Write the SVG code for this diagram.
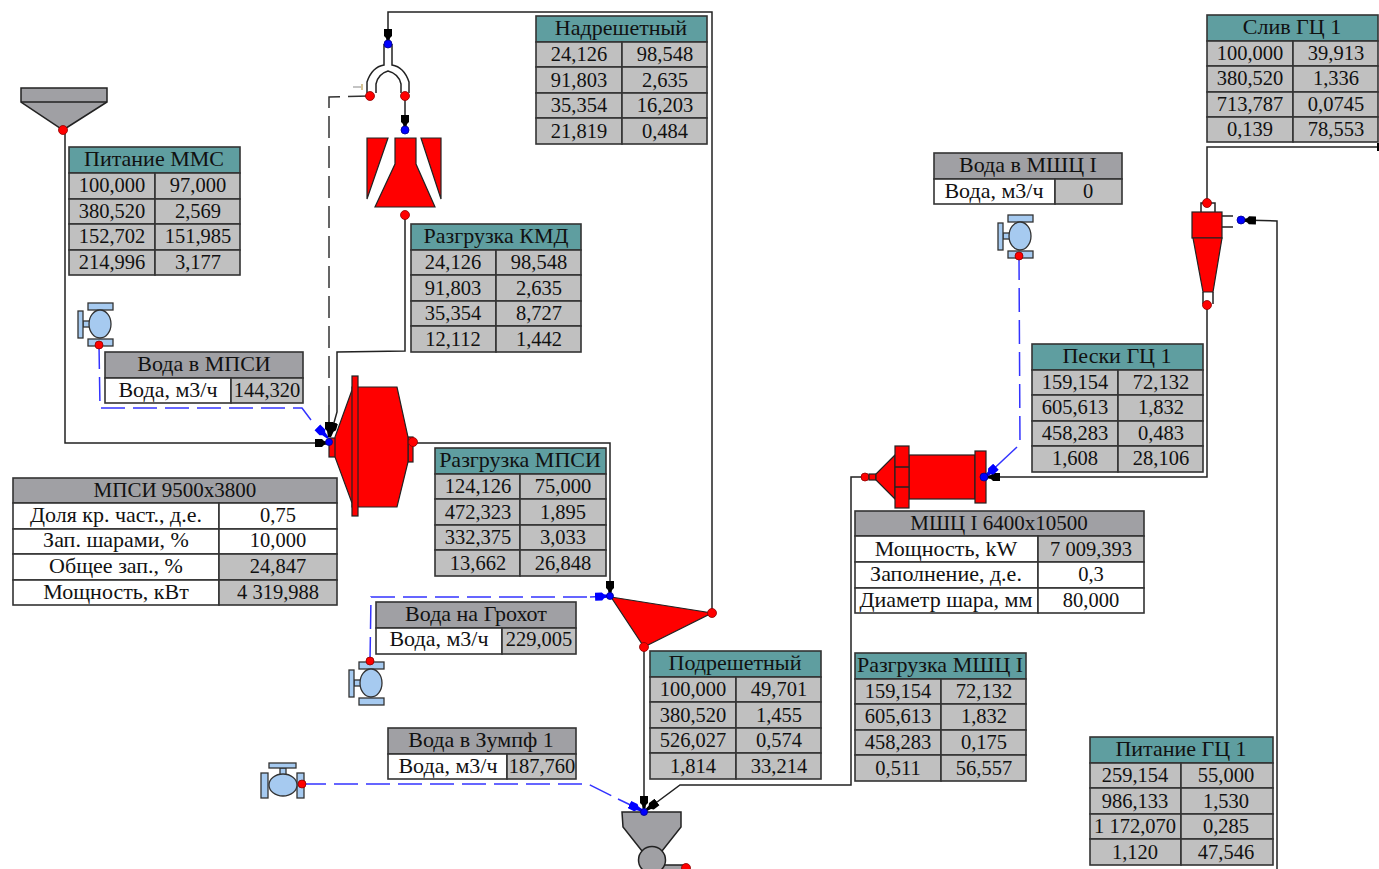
<svg xmlns="http://www.w3.org/2000/svg" width="1379" height="869" viewBox="0 0 1379 869">
<style>
text{font-family:"Liberation Serif",serif;font-size:20.5px;fill:#111;text-anchor:middle}
text.s{font-size:22px}
text.q{font-size:21px}
.t rect{stroke:#333;stroke-width:1.6}
.h{fill:#5f9ea0}.g{fill:#a0a0a4}.c{fill:#c0c0c0}.w{fill:#fff}
.l{fill:none;stroke:#222;stroke-width:1.5}
.b{fill:none;stroke:#3333ff;stroke-width:1.5;stroke-dasharray:24 8}
.d{fill:none;stroke:#333;stroke-width:1.5;stroke-dasharray:22 8}
.m{marker-end:url(#ak)}.n{marker-end:url(#ab)}
.r{fill:#f00;stroke:#222;stroke-width:1.2}
.e{fill:#a0a0a4;stroke:#222;stroke-width:1.5}
.rd{fill:#f00;stroke:#8b0000;stroke-width:.8}
.bd{fill:#00f;stroke:#00008b;stroke-width:.8}
.v{fill:#a6caf0;stroke:#333;stroke-width:1.3}
</style>
<defs>
<marker id="ak" markerUnits="userSpaceOnUse" markerWidth="16" markerHeight="10" refX="15" refY="5" orient="auto"><path d="M0,1H7L9,3L15,4V6L9,7L7,9H0Z" fill="#000"/></marker>
<marker id="ab" markerUnits="userSpaceOnUse" markerWidth="16" markerHeight="10" refX="15" refY="5" orient="auto"><path d="M0,1H7L9,3L15,4V6L9,7L7,9H0Z" fill="#00f"/></marker>
<g id="valve"><rect class="v" x="-12" y="-21" width="25" height="7"/><rect class="v" x="-12" y="15" width="25" height="7"/><rect class="v" x="-17" y="-3" width="7" height="6"/><rect class="v" x="-22" y="-13" width="5" height="27"/><ellipse class="v" cx="0" cy="0" rx="11" ry="14"/></g>
</defs>

<g id="connectors">
<polyline class="l m" points="65,130 65,443 330,443"/>
<polyline class="b" points="99,345 100,408 302,408 311,420"/>
<polyline class="n" fill="none" stroke="#3333ff" stroke-width="1.5" points="318,428 328,438"/>
<polyline class="d" points="370,96 329,97 329,405"/>
<polyline class="l m" points="329,405 329,437"/>
<polyline class="l m" points="405,215 405,351 337,352 337,412 330,437"/>
<polyline class="l m" points="412,443 610,443 610,596"/>
<polyline class="l m" points="712,613 712,12 388,12 388,44"/>
<polyline class="l m" points="405,96 405,130"/>
<polyline class="b" points="370,661 371,597 590,597"/>
<polyline class="n" fill="none" stroke="#3333ff" stroke-width="1.5" points="590,597 610,596"/>
<polyline class="l m" points="644,647 644,811"/>
<polyline class="b" points="302,784 588,784 612,796"/>
<polyline class="n" fill="none" stroke="#3333ff" stroke-width="1.5" points="618,799 643,811"/>
<polyline class="l m" points="868,477 851,477 851,785 680,785 645,811"/>
<polyline class="l m" points="1207,305 1207,477 985,477"/>
<polyline class="b" points="1019,256 1020,447"/>
<polyline class="n" fill="none" stroke="#3333ff" stroke-width="1.5" points="1017,447 985,477"/>
<polyline class="l m" points="1277,869 1277,221 1241,220"/>
<polyline class="l" points="1207,203 1207,147 1379,147"/>
<rect x="1377" y="143" width="2" height="8" fill="#000"/>
</g>

<g id="hopper"><path class="e" d="M21,88H107V102L63,130L21,102Z"/><path class="l" d="M21,102H107"/><circle class="rd" cx="63" cy="130" r="4.5"/></g>
<g id="splitter"><path class="l" d="M384,44V65Q372,67 367,82V93M392,44V65Q404,67 409,82V93M376,93V84Q378,74 388,71Q399,74 401,84V93"/><path d="M353,87H361" fill="none" stroke="#b0b0b0" stroke-width="1.5"/><path d="M362,84V90" fill="none" stroke="#c8b070" stroke-width="1.5"/><circle class="rd" cx="370" cy="96" r="4.5"/><circle class="rd" cx="405" cy="96" r="4.5"/><circle class="bd" cx="388" cy="44" r="4"/></g>
<g id="kmd"><path class="r" d="M367,138H388L367,199Z"/><path class="r" d="M395,138H416V164L435,207H375L395,164Z"/><path class="r" d="M421,138H441V199Z"/><circle class="bd" cx="405" cy="130" r="4"/><circle class="rd" cx="405" cy="215" r="4.5"/></g>
<g id="mill1"><rect class="r" x="329" y="438" width="7" height="19"/><rect class="r" x="408" y="437" width="5" height="25"/><path class="r" d="M352,390L335,437V457L352,503V507H397L408,462V437L397,387H352Z"/><rect class="r" x="352" y="376" width="6" height="140"/><circle class="rd" cx="413" cy="442" r="4.5"/><circle class="bd" cx="329" cy="442" r="3.5"/></g>
<g id="screen"><path class="r" d="M611,597L712,613L644,647Z"/><circle class="bd" cx="610" cy="596" r="3.5"/><circle class="rd" cx="712" cy="613" r="4.5"/><circle class="rd" cx="644" cy="647" r="4.5"/></g>
<g id="sump"><rect class="e" x="662" y="865" width="24" height="5"/><path class="e" d="M622,812H681V827L662,851H642L623,827Z"/><circle class="e" cx="652" cy="860" r="13.5"/><circle class="rd" cx="686" cy="868" r="4.5"/><circle class="bd" cx="644" cy="812" r="3.5"/></g>
<g id="mill2"><circle class="rd" cx="865" cy="477" r="4"/><rect class="r" x="869" y="474" width="7" height="6"/><path class="r" d="M895,455L876,474V480L895,499Z"/><rect class="r" x="909" y="455" width="66" height="44"/><rect class="r" x="895" y="446" width="14" height="62"/><path class="l" d="M895,467H909M895,487H909"/><rect class="r" x="975" y="451" width="11" height="52"/><circle class="bd" cx="984" cy="477" r="4"/></g>
<g id="cyclone"><path class="l" d="M1201,212V203H1215V212M1222,216H1233M1222,227H1233M1203,292V304M1213,292V304"/><rect class="r" x="1192" y="212" width="30" height="26"/><path class="r" d="M1193,238H1222L1213,292H1203Z"/><circle class="rd" cx="1207" cy="203" r="4.5"/><circle class="rd" cx="1207" cy="305" r="4.5"/><circle class="bd" cx="1241" cy="220" r="4"/></g>
<g id="valve1"><use href="#valve" x="100" y="324"/><circle class="rd" cx="99" cy="345" r="4"/></g>
<g id="valve2"><use href="#valve" x="371" y="683"/><circle class="rd" cx="370" cy="661" r="4"/></g>
<g id="valve3"><use href="#valve" transform="translate(283,785) rotate(90)"/><circle class="rd" cx="302" cy="784" r="4"/></g>
<g id="valve4"><use href="#valve" x="1020" y="236"/><circle class="rd" cx="1019" cy="256" r="4"/></g>

<g id="pit-mms" class="t"><rect class="h" x="69" y="147" width="171" height="26"/><rect class="c" x="69" y="173" width="86" height="26"/><rect class="c" x="155" y="173" width="85" height="26"/><rect class="c" x="69" y="199" width="86" height="25"/><rect class="c" x="155" y="199" width="85" height="25"/><rect class="c" x="69" y="224" width="86" height="26"/><rect class="c" x="155" y="224" width="85" height="26"/><rect class="c" x="69" y="250" width="86" height="25"/><rect class="c" x="155" y="250" width="85" height="25"/>
<text class="s" x="154" y="166">Питание ММС</text><text x="112" y="192">100,000</text><text x="198" y="192">97,000</text><text x="112" y="218">380,520</text><text x="198" y="218">2,569</text><text x="112" y="243">152,702</text><text x="198" y="243">151,985</text><text x="112" y="269">214,996</text><text x="198" y="269">3,177</text></g>

<g id="nadr" class="t"><rect class="h" x="536" y="16" width="171" height="26"/><rect class="c" x="536" y="42" width="86" height="25"/><rect class="c" x="622" y="42" width="85" height="25"/><rect class="c" x="536" y="67" width="86" height="26"/><rect class="c" x="622" y="67" width="85" height="26"/><rect class="c" x="536" y="93" width="86" height="25"/><rect class="c" x="622" y="93" width="85" height="25"/><rect class="c" x="536" y="118" width="86" height="26"/><rect class="c" x="622" y="118" width="85" height="26"/>
<text class="s" x="621" y="35">Надрешетный</text><text x="579" y="61">24,126</text><text x="665" y="61">98,548</text><text x="579" y="87">91,803</text><text x="665" y="87">2,635</text><text x="579" y="112">35,354</text><text x="665" y="112">16,203</text><text x="579" y="138">21,819</text><text x="665" y="138">0,484</text></g>

<g id="razg-kmd" class="t"><rect class="h" x="411" y="224" width="170" height="26"/><rect class="c" x="411" y="250" width="85" height="25"/><rect class="c" x="496" y="250" width="85" height="25"/><rect class="c" x="411" y="275" width="85" height="26"/><rect class="c" x="496" y="275" width="85" height="26"/><rect class="c" x="411" y="301" width="85" height="25"/><rect class="c" x="496" y="301" width="85" height="25"/><rect class="c" x="411" y="326" width="85" height="26"/><rect class="c" x="496" y="326" width="85" height="26"/>
<text class="s" x="496" y="243">Разгрузка КМД</text><text x="453" y="269">24,126</text><text x="539" y="269">98,548</text><text x="453" y="295">91,803</text><text x="539" y="295">2,635</text><text x="453" y="320">35,354</text><text x="539" y="320">8,727</text><text x="453" y="346">12,112</text><text x="539" y="346">1,442</text></g>

<g id="razg-mpsi" class="t"><rect class="h" x="435" y="448" width="171" height="26"/><rect class="c" x="435" y="474" width="85" height="25"/><rect class="c" x="520" y="474" width="86" height="25"/><rect class="c" x="435" y="499" width="85" height="26"/><rect class="c" x="520" y="499" width="86" height="26"/><rect class="c" x="435" y="525" width="85" height="25"/><rect class="c" x="520" y="525" width="86" height="25"/><rect class="c" x="435" y="550" width="85" height="26"/><rect class="c" x="520" y="550" width="86" height="26"/>
<text class="s" x="520" y="467">Разгрузка МПСИ</text><text x="478" y="493">124,126</text><text x="563" y="493">75,000</text><text x="478" y="519">472,323</text><text x="563" y="519">1,895</text><text x="478" y="544">332,375</text><text x="563" y="544">3,033</text><text x="478" y="570">13,662</text><text x="563" y="570">26,848</text></g>

<g id="podr" class="t"><rect class="h" x="650" y="651" width="171" height="26"/><rect class="c" x="650" y="677" width="86" height="25"/><rect class="c" x="736" y="677" width="85" height="25"/><rect class="c" x="650" y="702" width="86" height="26"/><rect class="c" x="736" y="702" width="85" height="26"/><rect class="c" x="650" y="728" width="86" height="25"/><rect class="c" x="736" y="728" width="85" height="25"/><rect class="c" x="650" y="753" width="86" height="26"/><rect class="c" x="736" y="753" width="85" height="26"/>
<text class="s" x="735" y="670">Подрешетный</text><text x="693" y="696">100,000</text><text x="779" y="696">49,701</text><text x="693" y="722">380,520</text><text x="779" y="722">1,455</text><text x="693" y="747">526,027</text><text x="779" y="747">0,574</text><text x="693" y="773">1,814</text><text x="779" y="773">33,214</text></g>

<g id="razg-mshc" class="t"><rect class="h" x="855" y="653" width="171" height="26"/><rect class="c" x="855" y="679" width="86" height="25"/><rect class="c" x="941" y="679" width="85" height="25"/><rect class="c" x="855" y="704" width="86" height="26"/><rect class="c" x="941" y="704" width="85" height="26"/><rect class="c" x="855" y="730" width="86" height="25"/><rect class="c" x="941" y="730" width="85" height="25"/><rect class="c" x="855" y="755" width="86" height="26"/><rect class="c" x="941" y="755" width="85" height="26"/>
<text class="s" x="940" y="672">Разгрузка МШЦ I</text><text x="898" y="698">159,154</text><text x="984" y="698">72,132</text><text x="898" y="723">605,613</text><text x="984" y="723">1,832</text><text x="898" y="749">458,283</text><text x="984" y="749">0,175</text><text x="898" y="775">0,511</text><text x="984" y="775">56,557</text></g>

<g id="pit-gc" class="t"><rect class="h" x="1090" y="737" width="183" height="26"/><rect class="c" x="1090" y="763" width="91" height="25"/><rect class="c" x="1181" y="763" width="92" height="25"/><rect class="c" x="1090" y="788" width="91" height="26"/><rect class="c" x="1181" y="788" width="92" height="26"/><rect class="c" x="1090" y="814" width="91" height="25"/><rect class="c" x="1181" y="814" width="92" height="25"/><rect class="c" x="1090" y="839" width="91" height="26"/><rect class="c" x="1181" y="839" width="92" height="26"/>
<text class="s" x="1181" y="756">Питание ГЦ 1</text><text x="1135" y="782">259,154</text><text x="1226" y="782">55,000</text><text x="1135" y="808">986,133</text><text x="1226" y="808">1,530</text><text x="1135" y="833">1 172,070</text><text x="1226" y="833">0,285</text><text x="1135" y="859">1,120</text><text x="1226" y="859">47,546</text></g>

<g id="peski-gc" class="t"><rect class="h" x="1032" y="344" width="171" height="26"/><rect class="c" x="1032" y="370" width="86" height="25"/><rect class="c" x="1118" y="370" width="85" height="25"/><rect class="c" x="1032" y="395" width="86" height="26"/><rect class="c" x="1118" y="395" width="85" height="26"/><rect class="c" x="1032" y="421" width="86" height="25"/><rect class="c" x="1118" y="421" width="85" height="25"/><rect class="c" x="1032" y="446" width="86" height="26"/><rect class="c" x="1118" y="446" width="85" height="26"/>
<text class="s" x="1117" y="363">Пески ГЦ 1</text><text x="1075" y="389">159,154</text><text x="1161" y="389">72,132</text><text x="1075" y="414">605,613</text><text x="1161" y="414">1,832</text><text x="1075" y="440">458,283</text><text x="1161" y="440">0,483</text><text x="1075" y="465">1,608</text><text x="1161" y="465">28,106</text></g>

<g id="sliv-gc" class="t"><rect class="h" x="1207" y="15" width="171" height="26"/><rect class="c" x="1207" y="41" width="86" height="25"/><rect class="c" x="1293" y="41" width="85" height="25"/><rect class="c" x="1207" y="66" width="86" height="26"/><rect class="c" x="1293" y="66" width="85" height="26"/><rect class="c" x="1207" y="92" width="86" height="25"/><rect class="c" x="1293" y="92" width="85" height="25"/><rect class="c" x="1207" y="117" width="86" height="25"/><rect class="c" x="1293" y="117" width="85" height="25"/>
<text class="s" x="1292" y="34">Слив ГЦ 1</text><text x="1250" y="60">100,000</text><text x="1336" y="60">39,913</text><text x="1250" y="85">380,520</text><text x="1336" y="85">1,336</text><text x="1250" y="111">713,787</text><text x="1336" y="111">0,0745</text><text x="1250" y="136">0,139</text><text x="1336" y="136">78,553</text></g>

<g id="voda-mpsi" class="t"><rect class="g" x="105" y="352" width="198" height="26"/><rect class="w" x="105" y="378" width="126" height="25"/><rect class="c" x="231" y="378" width="72" height="25"/><text class="s" x="204" y="371">Вода в МПСИ</text><text class="s" x="168" y="397">Вода, м3/ч</text><text x="267" y="397">144,320</text></g>
<g id="voda-groh" class="t"><rect class="g" x="376" y="602" width="200" height="26"/><rect class="w" x="376" y="628" width="126" height="26"/><rect class="c" x="502" y="628" width="74" height="26"/><text class="s" x="476" y="621">Вода на Грохот</text><text class="s" x="439" y="646">Вода, м3/ч</text><text x="539" y="646">229,005</text></g>
<g id="voda-zump" class="t"><rect class="g" x="388" y="728" width="188" height="26"/><rect class="w" x="388" y="754" width="119" height="25"/><rect class="c" x="507" y="754" width="69" height="25"/><text class="s" x="481" y="747">Вода в Зумпф 1</text><text class="s" x="448" y="773">Вода, м3/ч</text><text x="542" y="773">187,760</text></g>
<g id="voda-mshc" class="t"><rect class="g" x="934" y="153" width="188" height="26"/><rect class="w" x="934" y="179" width="121" height="25"/><rect class="c" x="1055" y="179" width="67" height="25"/><text class="s" x="1028" y="172">Вода в МШЦ I</text><text class="s" x="994" y="198">Вода, м3/ч</text><text x="1088" y="198">0</text></g>

<g id="mpsi" class="t"><rect class="g" x="13" y="478" width="324" height="25"/><rect class="w" x="13" y="503" width="206" height="26"/><rect class="w" x="219" y="503" width="118" height="26"/><rect class="w" x="13" y="529" width="206" height="25"/><rect class="w" x="219" y="529" width="118" height="25"/><rect class="w" x="13" y="554" width="206" height="26"/><rect class="c" x="219" y="554" width="118" height="26"/><rect class="w" x="13" y="580" width="206" height="25"/><rect class="c" x="219" y="580" width="118" height="25"/>
<text class="q" x="175" y="497">МПСИ 9500х3800</text><text class="s" x="116" y="522">Доля кр. част., д.е.</text><text x="278" y="522">0,75</text><text class="s" x="116" y="547">Зап. шарами, %</text><text x="278" y="547">10,000</text><text class="s" x="116" y="573">Общее зап., %</text><text x="278" y="573">24,847</text><text class="s" x="116" y="599">Мощность, кВт</text><text x="278" y="599">4 319,988</text></g>

<g id="mshc" class="t"><rect class="g" x="855" y="511" width="289" height="25"/><rect class="w" x="855" y="536" width="183" height="26"/><rect class="c" x="1038" y="536" width="106" height="26"/><rect class="w" x="855" y="562" width="183" height="26"/><rect class="w" x="1038" y="562" width="106" height="26"/><rect class="w" x="855" y="588" width="183" height="25"/><rect class="w" x="1038" y="588" width="106" height="25"/>
<text class="q" x="999" y="530">МШЦ I 6400х10500</text><text class="s" x="946" y="556">Мощность, kW</text><text x="1091" y="556">7 009,393</text><text class="s" x="946" y="581">Заполнение, д.е.</text><text x="1091" y="581">0,3</text><text class="s" x="946" y="607">Диаметр шара, мм</text><text x="1091" y="607">80,000</text></g>
</svg>
